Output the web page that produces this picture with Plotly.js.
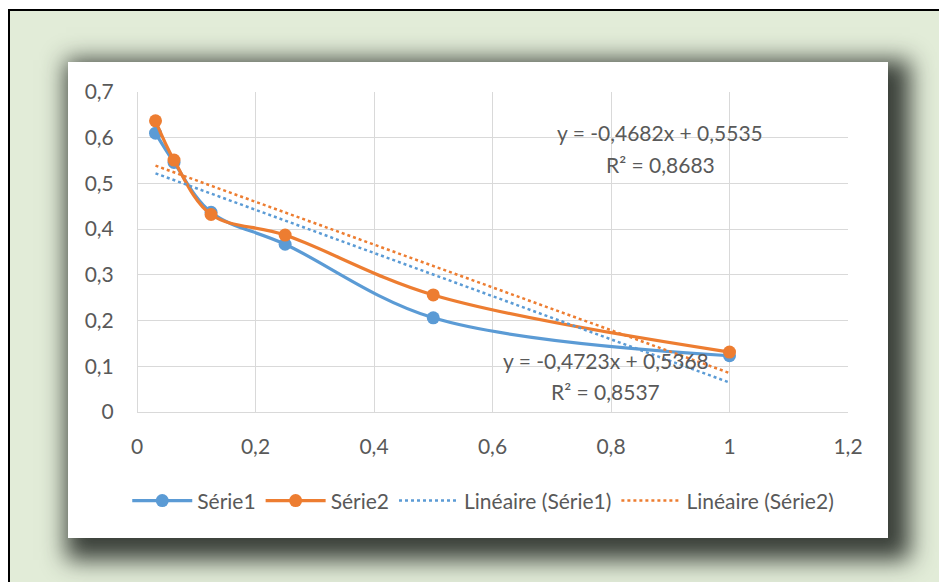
<!DOCTYPE html>
<html>
<head>
<meta charset="utf-8">
<script src="https://cdn.plot.ly/plotly-3.0.1.min.js"></script>
<style>
  html, body { margin: 0; padding: 0; background: #ffffff; width: 939px; height: 582px; overflow: hidden; }
  #frame { position: absolute; left: 8px; top: 9px; width: 940px; height: 600px;
           background: #e2ecd8; border-left: 2px solid #000; border-top: 2px solid #000; }
  #panel { position: absolute; left: 68px; top: 62px; width: 820px; height: 476px; background: #fff;
           box-shadow: 10px 10px 22px 12px rgba(45,50,45,0.92); }
  #chart { position: absolute; left: 0; top: 0; width: 820px; height: 476px; }
</style>
</head>
<body>
<div id="frame"></div>
<div id="panel"><div id="chart"></div></div>
<script>
// Data
const xValues = [0.03125, 0.0625, 0.125, 0.25, 0.5, 1];
const serie1 = [0.610, 0.546, 0.437, 0.367, 0.206, 0.123];
const serie2 = [0.637, 0.551, 0.432, 0.387, 0.256, 0.131];
// Trendline coefficients as printed on the chart
const trend1 = { slope: -0.4723, intercept: 0.5368, r2: 0.8537 };
const trend2 = { slope: -0.4682, intercept: 0.5535, r2: 0.8683 };
const seriesNames = ['Série1', 'Série2', 'Linéaire (Série1)', 'Linéaire (Série2)'];
const xTicks = [0, 0.2, 0.4, 0.6, 0.8, 1, 1.2];
const yTicks = [0, 0.1, 0.2, 0.3, 0.4, 0.5, 0.6, 0.7];

const blue = '#5b9bd5', orange = '#ed7d31';
const fontFam = 'Lato, "Open Sans", sans-serif';
const txt = '#595959';
const fs = 21;

const trendX = [xValues[0], xValues[xValues.length - 1]];
const trendY = t => trendX.map(x => t.slope * x + t.intercept);
const fmt = v => v.toFixed(4).replace('.', ',');
const eq = t => 'y = ' + fmt(t.slope) + 'x + ' + fmt(t.intercept);

const traces = [
  { x: xValues, y: serie1, name: seriesNames[0], type: 'scatter', mode: 'lines+markers',
    line: { color: blue, width: 3.2, shape: 'spline', smoothing: 1 }, marker: { color: blue, size: 13 } },
  { x: xValues, y: serie2, name: seriesNames[1], type: 'scatter', mode: 'lines+markers',
    line: { color: orange, width: 3.2, shape: 'spline', smoothing: 1 }, marker: { color: orange, size: 13 } },
  { x: trendX, y: trendY(trend1), name: seriesNames[2], type: 'scatter', mode: 'lines',
    line: { color: blue, width: 2.5, dash: 'dot' } },
  { x: trendX, y: trendY(trend2), name: seriesNames[3], type: 'scatter', mode: 'lines',
    line: { color: orange, width: 2.5, dash: 'dot' } }
];

const annFont = { family: fontFam, size: fs, color: txt };
const layout = {
  width: 820, height: 476,
  margin: { l: 69, r: 40, t: 30, b: 126, autoexpand: false },
  paper_bgcolor: '#ffffff', plot_bgcolor: '#ffffff',
  separators: ', ',
  font: { family: fontFam, size: fs, color: txt },
  showlegend: true,
  legend: { orientation: 'h', x: 0.487, xanchor: 'center', y: -0.278, yanchor: 'middle',
            itemwidth: 60, font: { family: fontFam, size: fs, color: txt }, traceorder: 'normal' },
  xaxis: { range: [0, 1.2], tickvals: xTicks, showgrid: true, gridcolor: '#d9d9d9', gridwidth: 1,
           zeroline: true, zerolinecolor: '#d9d9d9', showline: false,
           ticks: 'outside', ticklen: 16, tickcolor: 'rgba(0,0,0,0)', fixedrange: true },
  yaxis: { range: [0, 0.7], tickvals: yTicks, showgrid: true, gridcolor: '#d9d9d9', gridwidth: 1,
           zeroline: true, zerolinecolor: '#d9d9d9', showline: false,
           ticks: 'outside', ticklen: 18, tickcolor: 'rgba(0,0,0,0)', fixedrange: true },
  annotations: [
    { x: 0.883, y: 0.6125, xref: 'x', yref: 'y', text: eq(trend2), showarrow: false, font: annFont },
    { x: 0.883, y: 0.541, xref: 'x', yref: 'y', text: 'R² = ' + fmt(trend2.r2), showarrow: false, font: annFont },
    { x: 0.791, y: 0.1135, xref: 'x', yref: 'y', text: eq(trend1), showarrow: false, font: annFont },
    { x: 0.791, y: 0.0445, xref: 'x', yref: 'y', text: 'R² = ' + fmt(trend1.r2), showarrow: false, font: annFont }
  ]
};

Plotly.newPlot('chart', traces, layout, { displayModeBar: false, staticPlot: true });
</script>
</body>
</html>
